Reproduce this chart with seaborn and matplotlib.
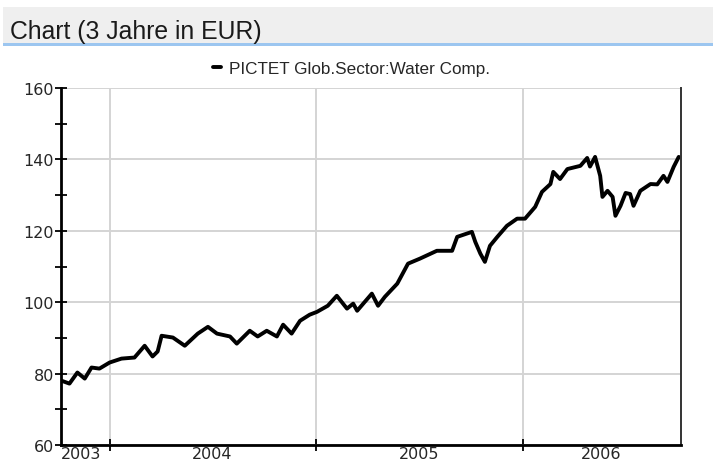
import pandas as pd
import numpy as np
import matplotlib
matplotlib.use('Agg')
import matplotlib.pyplot as plt
from matplotlib.patches import Rectangle
import seaborn as sns

# values (approximate)
dates = ['2003-10-08', '2003-10-22', '2003-11-05', '2003-11-18', '2003-11-30', '2003-12-14',
         '2004-01-01', '2004-01-22', '2004-02-14', '2004-03-03', '2004-03-17', '2004-03-26',
         '2004-04-02', '2004-04-22', '2004-05-13', '2004-06-05', '2004-06-23', '2004-07-09',
         '2004-08-01', '2004-08-13', '2004-09-05', '2004-09-19', '2004-10-05', '2004-10-23',
         '2004-11-03', '2004-11-18', '2004-12-03', '2004-12-20', '2005-01-02', '2005-01-21',
         '2005-02-06', '2005-02-24', '2005-03-07', '2005-03-14', '2005-04-09', '2005-04-20',
         '2005-05-02', '2005-05-24', '2005-06-12', '2005-07-03', '2005-08-02', '2005-08-29',
         '2005-09-07', '2005-10-03', '2005-10-09', '2005-10-18', '2005-10-26', '2005-11-04',
         '2005-11-17', '2005-12-04', '2005-12-22', '2006-01-05', '2006-01-23', '2006-02-04',
         '2006-02-19', '2006-02-24', '2006-03-08', '2006-03-21', '2006-04-13', '2006-04-25',
         '2006-04-30', '2006-05-09', '2006-05-18', '2006-05-22', '2006-05-31', '2006-06-09',
         '2006-06-14', '2006-06-23', '2006-07-02', '2006-07-10', '2006-07-16', '2006-07-28',
         '2006-08-15', '2006-08-27', '2006-09-07', '2006-09-14', '2006-09-25', '2006-10-04']
values = [78.0, 77.2, 80.3, 78.6, 81.7, 81.4,
          83.1, 84.2, 84.5, 87.8, 84.8, 86.2,
          90.6, 90.1, 87.8, 91.2, 93.1, 91.2,
          90.4, 88.4, 92.0, 90.4, 92.0, 90.4,
          93.7, 91.2, 94.8, 96.5, 97.3, 99.0,
          101.8, 98.2, 99.6, 97.6, 102.4, 99.0,
          101.5, 105.2, 110.8, 112.2, 114.4, 114.4,
          118.3, 119.7, 116.9, 113.6, 111.3, 115.8,
          118.3, 121.4, 123.4, 123.4, 126.7, 130.9,
          133.1, 136.5, 134.5, 137.3, 138.2, 140.4,
          138.0, 140.7, 135.4, 129.5, 131.2, 129.5,
          124.2, 127.0, 130.6, 130.3, 127.0, 131.2,
          133.1, 133.0, 135.4, 133.7, 137.9, 140.7]

series_name = 'PICTET Glob.Sector:Water Comp.'
year_labels = ['2003', '2004', '2005', '2006']
label_dates = ['2003-11-12', '2004-07-01', '2005-07-01', '2006-05-20']
year_starts = ['2004-01-01', '2005-01-01', '2006-01-01']

df = pd.DataFrame({'date': pd.to_datetime(dates), 'value': values})

sns.set_style('white')
plt.rcParams['font.family'] = ['DejaVu Sans']

fig = plt.figure(figsize=(7.13, 4.64), dpi=100)
ax = fig.add_axes([61 / 713, 1 - 446 / 464, 620 / 713, 357 / 464])

# header band
fig.patches.append(Rectangle((0.004, 1 - 44 / 464), 0.996, 36 / 464, transform=fig.transFigure,
                             facecolor='#efefef', edgecolor='none', zorder=0))
fig.patches.append(Rectangle((0.004, 1 - 47 / 464), 0.996, 3 / 464, transform=fig.transFigure,
                             facecolor='#9cc6f0', edgecolor='none', zorder=0))
fig.text(10 / 713, 1 - 32 / 464, 'Chart (3 Jahre in EUR)', fontsize=17.8, family='Liberation Sans',
         color='#1a1a1a', va='center', ha='left')

sns.lineplot(data=df, x='date', y='value', ax=ax, color='black', linewidth=2.8, label=series_name)

ax.set_xlim(pd.Timestamp('2003-10-07'), pd.Timestamp('2006-10-08'))
ax.set_ylim(60, 160)

ax.set_yticks(np.arange(60, 161, 20))
ax.set_yticks(np.arange(70, 160, 20), minor=True)
ax.set_xticks(pd.to_datetime(year_starts))
ax.set_xticklabels([])
ax.set_xticks(pd.to_datetime(label_dates), minor=True)
ax.set_xticklabels(year_labels, minor=True)

ax.grid(True, which='major', color='#d4d4d4', linewidth=1.4)
ax.set_axisbelow(True)
ax.tick_params(axis='y', which='both', left=True, direction='inout', length=8, width=1.3,
               color='black', labelsize=11.5, pad=1)
ax.tick_params(axis='x', which='major', bottom=True, direction='inout', length=8, width=1.3,
               color='black')
ax.tick_params(axis='x', which='minor', bottom=True, length=0, labelsize=11.5, pad=1)
ax.set_xlabel('')
ax.set_ylabel('')

for side in ['left', 'bottom']:
    ax.spines[side].set_color('black')
    ax.spines[side].set_linewidth(2)
ax.spines['right'].set_color('#333333')
ax.spines['right'].set_linewidth(1.4)
ax.spines['top'].set_visible(False)

leg = ax.legend(loc='lower center', bbox_to_anchor=(0.469, 1.015), frameon=False, handlelength=0.45,
                handletextpad=0.5, borderaxespad=0, prop={'family': 'Liberation Sans', 'size': 12.3})

fig.savefig('out.png', dpi=100)
